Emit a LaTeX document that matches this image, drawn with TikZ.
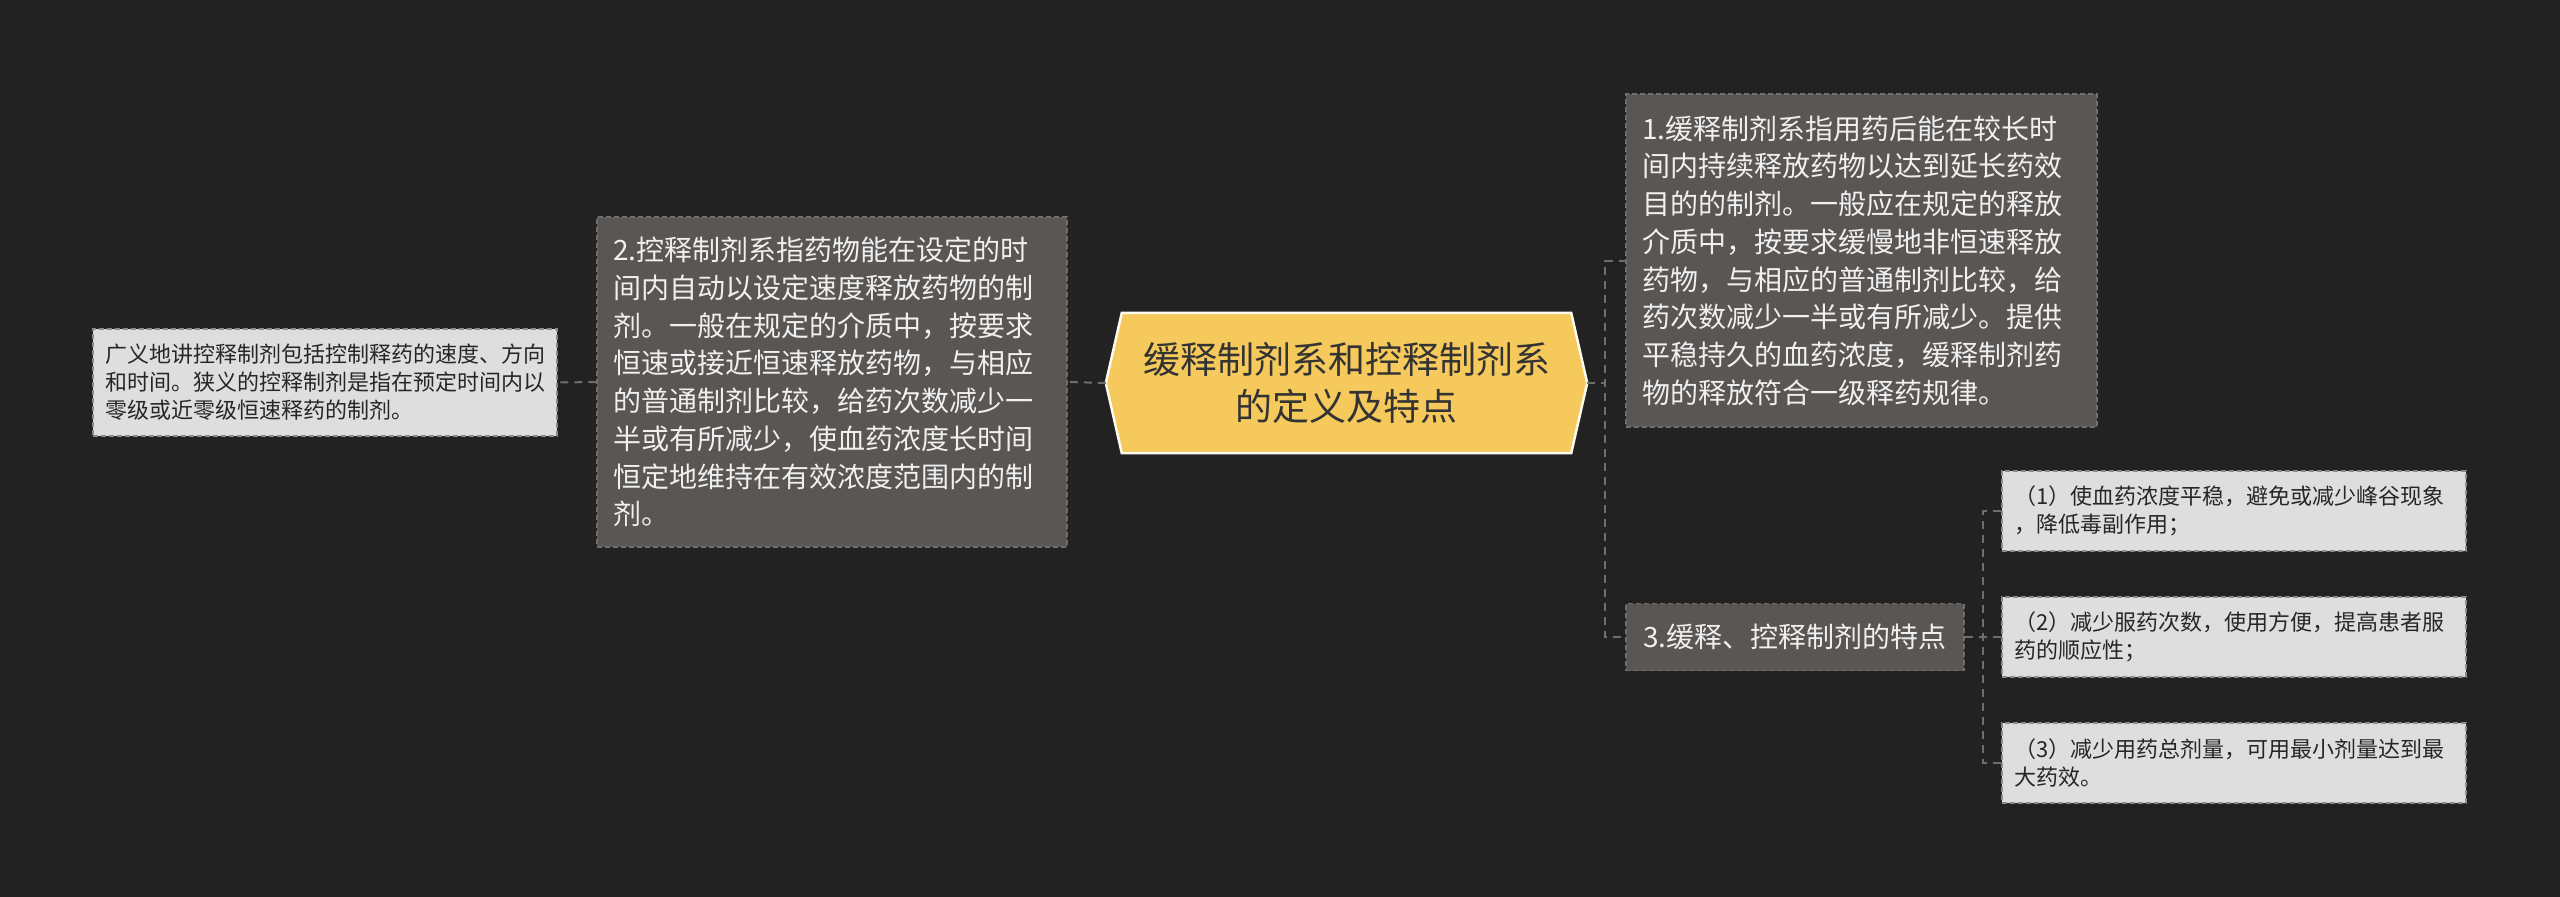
\documentclass[tikz,border=0pt]{standalone}
\usepackage{fontspec}
\setmainfont{Noto Sans CJK SC}
\usetikzlibrary{backgrounds}

\definecolor{bgdark}{HTML}{222222}
\definecolor{boxdark}{HTML}{595654}
\definecolor{boxlight}{HTML}{DEDEDE}
\definecolor{hubfill}{HTML}{F5C95B}
\definecolor{linkgray}{HTML}{6E6E6E}

\tikzset{
  darkbox/.style={draw=linkgray, dash pattern=on 5pt off 3pt, line width=1.5pt,
    fill=boxdark, text=white!94!black, align=left, inner xsep=16pt,
    font=\fontsize{28}{37.7}\selectfont},
  lightbox/.style={draw=linkgray!80!white, dash pattern=on 5pt off 3pt, line width=1.5pt,
    fill=boxlight, text=black!85, align=left, inner xsep=12pt,
    font=\fontsize{22}{28}\selectfont},
  link/.style={draw=linkgray, line width=2pt, dash pattern=on 8pt off 6pt}
}

\begin{document}
\begin{tikzpicture}[x=1pt,y=-1pt]
	\useasboundingbox (0,0) rectangle (2560,897);
%
	\node[inner sep=0pt, minimum width=481pt, minimum height=140pt, align=center,
		text=black!80, font=\fontsize{37}{47}\selectfont] (hub) at (1346.5,383)
		{缓释制剂系和控释制剂系\\的定义及特点};
	\begin{scope}[on background layer]
	\fill[bgdark] (0,0) rectangle (2560,897);
	\draw[fill=hubfill, draw=white!90!hubfill, line width=2.5pt]
		([xshift=16pt]hub.north west) -- ([xshift=-16pt]hub.north east) -- (hub.east)
		-- ([xshift=-16pt]hub.south east) -- ([xshift=16pt]hub.south west) -- (hub.west) -- cycle;
	\end{scope}
%
	\node[darkbox, text width=438pt, minimum height=330pt] (def2) at (832,382)
		{2.控释制剂系指药物能在设定的时\\间内自动以设定速度释放药物的制\\剂。一般在规定的介质中，按要求\\恒速或接近恒速释放药物，与相应\\的普通制剂比较，给药次数减少一\\半或有所减少，使血药浓度长时间\\恒定地维持在有效浓度范围内的制\\剂。};
	\node[lightbox, text width=440pt, minimum height=107pt] (broad) at (325,382.5)
		{广义地讲控释制剂包括控制释药的速度、方向\\和时间。狭义的控释制剂是指在预定时间内以\\零级或近零级恒速释药的制剂。};
%
	\node[darkbox, text width=439pt, minimum height=333pt] (def1) at (1861.5,260.5)
		{1.缓释制剂系指用药后能在较长时\\间内持续释放药物以达到延长药效\\目的的制剂。一般应在规定的释放\\介质中，按要求缓慢地非恒速释放\\药物，与相应的普通制剂比较，给\\药次数减少一半或有所减少。提供\\平稳持久的血药浓度，缓释制剂药\\物的释放符合一级释药规律。};
	\node[darkbox, align=center, minimum width=338pt, minimum height=67pt, inner xsep=0pt] (feat) at (1795,637)
		{3.缓释、控释制剂的特点};
%
	\node[lightbox, text width=440pt, minimum height=80pt] (pt1) at (2234,511)
		{（1）使血药浓度平稳，避免或减少峰谷现象\\，降低毒副作用；};
	\node[lightbox, text width=440pt, minimum height=80pt] (pt2) at (2234,637)
		{（2）减少服药次数，使用方便，提高患者服\\药的顺应性；};
	\node[lightbox, text width=440pt, minimum height=80pt] (pt3) at (2234,763)
		{（3）减少用药总剂量，可用最小剂量达到最\\大药效。};
%
	\draw[link] (hub.west) -- (def2.east);
	\draw[link] (def2.west) -- (broad.east);
	\draw[link] (hub.east) -- ++(18,0) |- (def1.west);
	\draw[link] (hub.east) -- ++(18,0) |- (feat.west);
	\foreach \p in {pt1,pt2,pt3}
		\draw[link] (feat.east) -- ++(18,0) |- (\p.west);
\end{tikzpicture}
\end{document}
